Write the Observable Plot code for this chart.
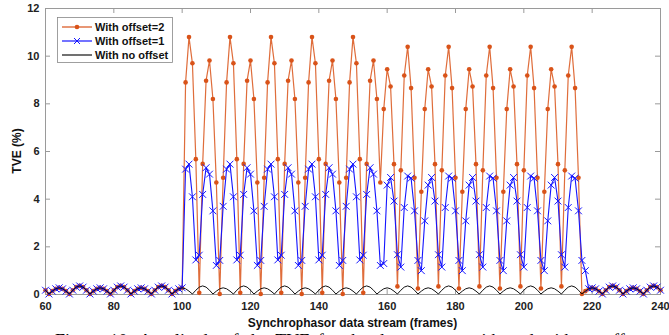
<!DOCTYPE html>
<html><head><meta charset="utf-8">
<script src="https://cdn.jsdelivr.net/npm/d3@7"></script>
<script src="https://cdn.jsdelivr.net/npm/@observablehq/plot@0.6"></script>
<style>
body{margin:0;background:#fff;width:669px;height:335px;overflow:hidden;}
#caption{font-family:"Liberation Serif","Times New Roman",serif;font-size:18px;line-height:1;margin-top:2px;padding-left:55px;white-space:nowrap;color:#000;word-spacing:3px}
</style></head><body><div id="chart"></div><div id="caption">Figure 10: Amplitude of the TVE for the data stream with and without offset</div>
<script>
const startFrame = 60;
const xTicks = [60, 80, 100, 120, 140, 160, 180, 200, 220, 240];
const yTicks = [0, 2, 4, 6, 8, 10, 12];
const legendLabels = ["With offset=2", "With offset=1", "With no offset"];

// TVE (%) per frame, frames 60..240
const offset2 = [
  0.18, 0.02, 0.14, 0.24, 0.28, 0.24, 0.14, 0.02, 0.18, 0.31, 0.36, 0.31, 0.18, 0.02,
  0.14, 0.24, 0.28, 0.24, 0.14, 0.02, 0.18, 0.31, 0.36, 0.31, 0.18, 0.02, 0.14, 0.24,
  0.28, 0.24, 0.14, 0.02, 0.18, 0.31, 0.36, 0.31, 0.18, 0.02, 0.14, 0.24, 0.28,
  8.9, 10.8, 9.7, 5.68, 0.07, 5.48, 8.97, 9.82, 8.2, 4.7, 0.02, 4.9,
  8.9, 10.8, 9.7, 5.68, 0.07, 5.48, 8.97, 9.82, 8.2, 4.7, 0.02, 4.9,
  8.9, 10.8, 9.7, 5.68, 0.07, 5.48, 8.97, 9.82, 8.2, 4.7, 0.02, 4.9,
  8.9, 10.8, 9.7, 5.68, 0.07, 5.48, 8.97, 9.82, 8.2, 4.7, 0.02, 4.9,
  8.9, 10.8, 9.7, 5.68, 0.07, 5.48, 8.97, 9.82, 8.2, 4.7,
  7.78, 9.45, 8.73, 5.47, 0.34, 5.21, 9.19, 10.39, 8.66, 4.9, 0.25, 4.31,
  7.78, 9.45, 8.73, 5.47, 0.34, 5.21, 9.19, 10.39, 8.66, 4.9, 0.25, 4.31,
  7.78, 9.45, 8.73, 5.47, 0.34, 5.21, 9.19, 10.39, 8.66, 4.9, 0.25, 4.31,
  7.78, 9.45, 8.73, 5.47, 0.34, 5.21, 9.19, 10.39, 8.66, 4.9, 0.25, 4.31,
  7.78, 9.45, 8.73, 5.47, 0.34, 5.21, 9.19, 10.39, 8.66, 4.9,
  0.02,
  0.14, 0.24, 0.28, 0.24, 0.14, 0.02, 0.18, 0.31, 0.36, 0.31, 0.18, 0.02,
  0.14, 0.24, 0.28, 0.24, 0.14, 0.02, 0.18, 0.31, 0.36, 0.31, 0.18
];
const offset1 = [
  0.18, 0.02, 0.14, 0.24, 0.28, 0.24, 0.14, 0.02, 0.18, 0.31, 0.36, 0.31, 0.18, 0.02,
  0.14, 0.24, 0.28, 0.24, 0.14, 0.02, 0.18, 0.31, 0.36, 0.31, 0.18, 0.02, 0.14, 0.24,
  0.28, 0.24, 0.14, 0.02, 0.18, 0.31, 0.36, 0.31, 0.18, 0.02, 0.14, 0.24, 0.28,
  5.26, 5.47, 4.1, 1.45, 1.65, 4.2, 5.32, 5.05, 3.51, 1.22, 1.43, 3.7,
  5.26, 5.47, 4.1, 1.45, 1.65, 4.2, 5.32, 5.05, 3.51, 1.22, 1.43, 3.7,
  5.26, 5.47, 4.1, 1.45, 1.65, 4.2, 5.32, 5.05, 3.51, 1.22, 1.43, 3.7,
  5.26, 5.47, 4.1, 1.45, 1.65, 4.2, 5.32, 5.05, 3.51, 1.22, 1.43, 3.7,
  5.26, 5.47, 4.1, 1.45, 1.65, 4.2, 5.32, 5.05, 3.51, 1.22,
  1.3,
  4.59, 4.91, 3.92, 1.67, 1.15, 3.65, 4.97, 4.88, 3.51, 1.43, 1.0, 3.09,
  4.59, 4.91, 3.92, 1.67, 1.15, 3.65, 4.97, 4.88, 3.51, 1.43, 1.0, 3.09,
  4.59, 4.91, 3.92, 1.67, 1.15, 3.65, 4.97, 4.88, 3.51, 1.43, 1.0, 3.09,
  4.59, 4.91, 3.92, 1.67, 1.15, 3.65, 4.97, 4.88, 3.51, 1.43, 1.0, 3.09,
  4.59, 4.91, 3.92, 1.67, 1.15, 3.65, 4.97, 4.88, 3.51, 1.43, 1.0,
  0.24, 0.28, 0.24, 0.14, 0.02, 0.18, 0.31, 0.36, 0.31, 0.18, 0.02,
  0.14, 0.24, 0.28, 0.24, 0.14, 0.02, 0.18, 0.31, 0.36, 0.31, 0.18
];
const noOffset = [
  0.18,
  0.02, 0.14, 0.24, 0.28, 0.24, 0.14, 0.02, 0.18, 0.31, 0.36, 0.31, 0.18,
  0.02, 0.14, 0.24, 0.28, 0.24, 0.14, 0.02, 0.18, 0.31, 0.36, 0.31, 0.18,
  0.02, 0.14, 0.24, 0.28, 0.24, 0.14, 0.02, 0.18, 0.31, 0.36, 0.31, 0.18,
  0.02, 0.14, 0.24, 0.28, 0.24, 0.14, 0.02, 0.18, 0.31, 0.36, 0.31, 0.18,
  0.02, 0.14, 0.24, 0.28, 0.24, 0.14, 0.02, 0.18, 0.31, 0.36, 0.31, 0.18,
  0.02, 0.14, 0.24, 0.28, 0.24, 0.14, 0.02, 0.18, 0.31, 0.36, 0.31, 0.18,
  0.02, 0.14, 0.24, 0.28, 0.24, 0.14, 0.02, 0.18, 0.31, 0.36, 0.31, 0.18,
  0.02, 0.14, 0.24, 0.28, 0.24, 0.14, 0.02, 0.18, 0.31, 0.36, 0.31, 0.18,
  0.02, 0.14, 0.24, 0.28, 0.24, 0.14, 0.02, 0.18, 0.31, 0.36, 0.31, 0.18,
  0.02, 0.14, 0.24, 0.28, 0.24, 0.14, 0.02, 0.18, 0.31, 0.36, 0.31, 0.18,
  0.02, 0.14, 0.24, 0.28, 0.24, 0.14, 0.02, 0.18, 0.31, 0.36, 0.31, 0.18,
  0.02, 0.14, 0.24, 0.28, 0.24, 0.14, 0.02, 0.18, 0.31, 0.36, 0.31, 0.18,
  0.02, 0.14, 0.24, 0.28, 0.24, 0.14, 0.02, 0.18, 0.31, 0.36, 0.31, 0.18,
  0.02, 0.14, 0.24, 0.28, 0.24, 0.14, 0.02, 0.18, 0.31, 0.36, 0.31, 0.18,
  0.02, 0.14, 0.24, 0.28, 0.24, 0.14, 0.02, 0.18, 0.31, 0.36, 0.31, 0.18
];

const toRows = vals => vals.map((v, i) => ({frame: startFrame + i, tve: v}));
const d2 = toRows(offset2), d1 = toRows(offset1), d0 = toRows(noOffset);

const W = 669, H = 330, mL = 45, mR = 9, mT = 8, mB = 36;
const frameW = W - mL - mR, frameH = H - mT - mB, tk = 5;
const ORANGE = "#D95319", BLUE = "#1515ff", BLACK = "#111";
const AX = "#9a9a9a";

const chart = Plot.plot({
  width: W, height: H,
  marginLeft: mL, marginRight: mR, marginTop: mT, marginBottom: mB,
  x: {domain: [60, 240]},
  y: {domain: [0, 12]},
  style: {fontFamily: "'Liberation Sans', Arial, sans-serif", fontSize: "11px", fontWeight: "bold", color: "#222", background: "#fff", overflow: "visible"},
  marks: [
    Plot.frame({stroke: AX, strokeWidth: 1}),
    Plot.tickX(xTicks, {x: d => d, insetTop: frameH - tk, stroke: AX}),
    Plot.tickX(xTicks, {x: d => d, insetBottom: frameH - tk, stroke: AX}),
    Plot.tickY(yTicks, {y: d => d, insetRight: frameW - tk, stroke: AX}),
    Plot.tickY(yTicks, {y: d => d, insetLeft: frameW - tk, stroke: AX}),
    Plot.axisX({ticks: xTicks, tickSize: 0, tickPadding: 8, label: null, tickFormat: d => String(d)}),
    Plot.axisY({ticks: yTicks, tickSize: 0, tickPadding: 6, label: null, tickFormat: d => String(d)}),
    Plot.line(d2, {x: "frame", y: "tve", stroke: ORANGE, strokeWidth: 1.2, strokeOpacity: 0.85}),
    Plot.dot(d2, {x: "frame", y: "tve", fill: ORANGE, r: 2.3}),
    Plot.line(d1, {x: "frame", y: "tve", stroke: BLUE, strokeWidth: 1.1}),
    Plot.dot(d1, {x: "frame", y: "tve", symbol: "times", stroke: BLUE, strokeWidth: 1, r: 3.2}),
    Plot.line(d0, {x: "frame", y: "tve", stroke: BLACK, strokeWidth: 1})
  ]
});
document.getElementById("chart").appendChild(chart);

const svg = d3.select(chart);
// axis titles
svg.append("text").attr("x", mL + frameW / 2).attr("y", 327)
  .attr("text-anchor", "middle").attr("font-size", 12).attr("font-weight", "bold").attr("fill", "#111")
  .text("Synchrophasor data stream (frames)");
svg.append("text").attr("transform", `translate(21,${mT + frameH / 2}) rotate(-90)`)
  .attr("text-anchor", "middle").attr("font-size", 12).attr("font-weight", "bold").attr("fill", "#111")
  .text("TVE (%)");

// legend
const lg = svg.append("g");
lg.append("rect").attr("x", 57.5).attr("y", 17.5).attr("width", 115).attr("height", 45)
  .attr("fill", "#fff").attr("stroke", "#888").attr("stroke-width", 0.8);
const rowY = [27, 41, 55];
const styles = [
  {stroke: ORANGE, marker: "dot"},
  {stroke: BLUE, marker: "x"},
  {stroke: BLACK, marker: null}
];
legendLabels.forEach((lab, i) => {
  const y = rowY[i], s = styles[i];
  lg.append("line").attr("x1", 62).attr("x2", 92).attr("y1", y).attr("y2", y)
    .attr("stroke", s.stroke).attr("stroke-width", 1.2);
  if (s.marker === "dot") lg.append("circle").attr("cx", 77).attr("cy", y).attr("r", 2.3).attr("fill", s.stroke);
  if (s.marker === "x") lg.append("path").attr("d", `M74,${y-3}L80,${y+3}M74,${y+3}L80,${y-3}`).attr("stroke", s.stroke).attr("stroke-width", 1);
  lg.append("text").attr("x", 95).attr("y", y).attr("dy", "0.35em").attr("text-anchor", "start")
    .attr("font-size", 11).attr("font-weight", "bold").attr("fill", "#111").text(lab);
});
</script></body></html>
